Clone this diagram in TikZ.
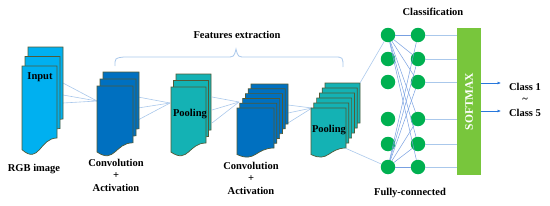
\documentclass[tikz,border=0pt]{standalone}
\usepackage{fontspec}
\setmainfont{Liberation Serif}
\usetikzlibrary{arrows.meta, positioning}

\definecolor{inblue}{RGB}{0,176,240}
\definecolor{convblue}{RGB}{0,112,192}
\definecolor{poolteal}{RGB}{20,178,180}
\definecolor{pageline}{RGB}{80,90,55}
\definecolor{linkblue}{RGB}{170,200,235}
\definecolor{fcline}{RGB}{120,160,225}
\definecolor{fcgreen}{RGB}{0,176,80}
\definecolor{smgreen}{RGB}{120,198,60}
\definecolor{arrowblue}{RGB}{40,120,220}

% 一页特征图 (x, y, 宽, 高, 颜色)
\newcommand{\docpage}[5]{%
  \filldraw[page, fill=#5] (#1,#2) -- (#1+#3,#2) -- (#1+#3,#2+0.8*#4)
    .. controls (#1+0.5*#3,#2+0.8*#4) and (#1+0.5*#3,#2+1.1*#4) .. (#1,#2+0.93*#4) -- cycle;}
% 一叠特征图 (x, y, 宽, 高, dx, dy, 层数, 颜色)
\newcommand{\docstack}[8]{%
  \foreach \i in {#7,...,1}{%
    \pgfmathsetmacro{\px}{#1+(\i-1)*#5}%
    \pgfmathsetmacro{\py}{#2-(\i-1)*#6}%
    \docpage{\px}{\py}{#3}{#4}{#8}}}

\begin{document}
\begin{tikzpicture}[x=1pt, y=-1pt,
    page/.style={draw=pageline, line width=0.7pt},
    txt/.style={font=\bfseries\fontsize{10.5}{12.5}\selectfont, align=center},
    link/.style={draw=linkblue, line width=0.6pt},
    fclink/.style={draw=fcline, line width=0.5pt},
    neuron/.style={circle, fill=fcgreen, minimum size=14.5pt, inner sep=0pt},
    smbox/.style={rectangle, fill=smgreen, minimum width=24pt, minimum height=147pt, inner sep=0pt},
    arrow/.style={-{Latex[length=3.5pt,width=3pt]}, draw=arrowblue, line width=0.6pt},
    brace/.style={draw=linkblue, line width=0.8pt}]

  \useasboundingbox (0,0) rectangle (550,206);

  % 层间连线
  \coordinate (c1in) at (97,101);
  \coordinate (p1in) at (170,103);
  \coordinate (c2in) at (239,102);
  \coordinate (p2in) at (312,108);
  \foreach \y [count=\k] in {83,95,103} {
    \coordinate (a\k) at (63,\y);
    \draw[link] (a\k) -- (c1in);
  }
  \foreach \y [count=\k] in {97,108,120} {
    \coordinate (b\k) at (138,\y);
    \draw[link] (b\k) -- (p1in);
  }
  \foreach \y [count=\k] in {97,110,123} {
    \coordinate (d\k) at (212,\y);
    \draw[link] (d\k) -- (c2in);
  }
  \foreach \y [count=\k] in {105,113,123} {
    \coordinate (e\k) at (288,\y);
    \draw[link] (e\k) -- (p2in);
  }

  % 特征图
  \docstack{22}{66}{35}{90}{3}{9.5}{3}{inblue}
  \docstack{97}{86}{36}{71}{3}{7}{3}{convblue}
  \docstack{171}{87}{35}{70}{2.5}{6.5}{3}{poolteal}
  \docstack{237}{108}{37}{50}{2.8}{4.8}{6}{convblue}
  \docstack{311}{108}{35}{50}{2.8}{5}{6}{poolteal}

  \node[txt] (input) at (40,77) {Input};
  \node[txt] (pool1) at (190,114) {Pooling};
  \node[txt] (pool2) at (329,130) {Pooling};

  \node[txt] (rgb) at (34,169) {RGB image};
  \node[txt] (conv1) at (116,175) {Convolution\\+\\Activation};
  \node[txt] (conv2) at (251,178) {Convolution\\+\\Activation};

  % 大括号
  \draw[brace] (115,66) .. controls (115,58) .. (124,57) -- (226,57)
    .. controls (234,57) .. (236,49) .. controls (238,57) .. (246,57)
    -- (334,57) .. controls (343,57) .. (343,67);
  \node[txt] (feat) at (237,35) {Features extraction};

  % 全连接层
  \foreach \y [count=\k] in {35,59,82,119,144,167} {
    \node[neuron] (f\k) at (388,\y) {};
    \node[neuron] (g\k) at (418,\y) {};
  }
  \node[smbox] (sm) at (469,101.5) {};
  \node[rotate=90, text=white, font=\bfseries\fontsize{11.5}{13}\selectfont] (smtext) at (sm) {SOFTMAX};

  \coordinate (p2top) at (360,83);
  \coordinate (p2bot) at (345,148);
  \draw[link] (p2top) -- (f1);
  \draw[link] (p2bot) -- (f6);
  \foreach \k in {1,...,6} {
    \draw[fclink] (f1) -- (g\k);
    \draw[fclink] (f6) -- (g\k);
    \draw[link] (g\k) -- (g\k -| sm.west);
  }

  \node[txt] (cls) at (433,12) {Classification};
  \node[txt] (fc) at (410,193) {Fully-connected};

  % 输出
  \node[txt] (cls1) at (525,87) {Class 1};
  \node[txt] (tl) at (525,100) {\textasciitilde};
  \node[txt] (cls5) at (525,113) {Class 5};
  \coordinate (o1) at (501,83);
  \coordinate (o5) at (501,111);
  \draw[arrow] (o1 -| sm.east) -- (o1);
  \draw[arrow] (o5 -| sm.east) -- (o5);

\end{tikzpicture}
\end{document}
